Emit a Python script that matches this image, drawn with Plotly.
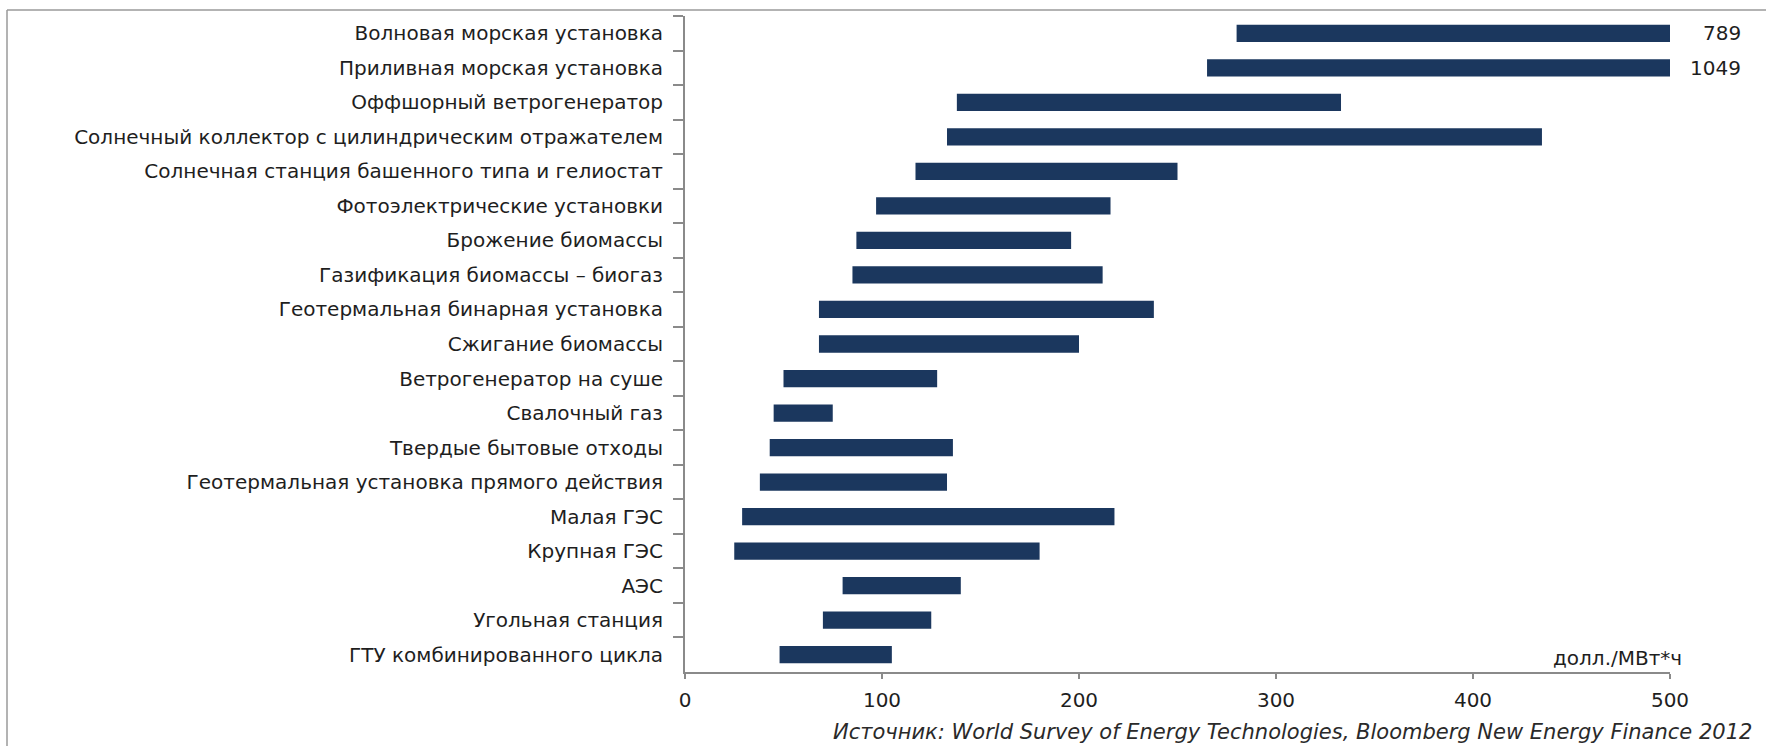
import plotly.graph_objects as go

# Levelized cost ranges, USD per MWh (low and high estimates)
categories = [
    "Волновая морская установка",
    "Приливная морская установка",
    "Оффшорный ветрогенератор",
    "Солнечный коллектор с цилиндрическим отражателем",
    "Солнечная станция башенного типа и гелиостат",
    "Фотоэлектрические установки",
    "Брожение биомассы",
    "Газификация биомассы – биогаз",
    "Геотермальная бинарная установка",
    "Сжигание биомассы",
    "Ветрогенератор на суше",
    "Свалочный газ",
    "Твердые бытовые отходы",
    "Геотермальная установка прямого действия",
    "Малая ГЭС",
    "Крупная ГЭС",
    "АЭС",
    "Угольная станция",
    "ГТУ комбинированного цикла",
]
low_values = [280, 265, 138, 133, 117, 97, 87, 85, 68, 68, 50, 45, 43, 38, 29, 25, 80, 70, 48]
high_values = [789, 1049, 333, 435, 250, 216, 196, 212, 238, 200, 128, 75, 136, 133, 218, 180, 140, 125, 105]

x_ticks = [0, 100, 200, 300, 400, 500]
x_max = 500
unit_label = "долл./МВт*ч"
source_text = "Источник: World Survey of Energy Technologies, Bloomberg New Energy Finance 2012"

BAR_COLOR = "#1b375e"
AXIS_COLOR = "#8a8a8a"
TEXT_COLOR = "#1e1e1e"
FONT = "DejaVu Sans"

W, H = 1766, 746
ML, MR, MT, MB = 685, 96, 16, 74
PW, PH = W - ML - MR, H - MT - MB


def px_x(px):
    return (px - ML) / PW


def px_y(py):
    return (H - MB - py) / PH


fig = go.Figure()
fig.add_trace(go.Bar(
    y=categories,
    x=[h - l for l, h in zip(low_values, high_values)],
    base=low_values,
    orientation="h",
    width=0.5,
    marker=dict(color=BAR_COLOR, line=dict(width=0)),
    hoverinfo="skip",
    showlegend=False,
))

# Values of bars running past the axis end
annotations = []
for cat, hi in zip(categories, high_values):
    if hi > x_max:
        annotations.append(dict(
            x=x_max, y=cat, xref="x", yref="y", text=str(hi),
            showarrow=False, xanchor="right", xshift=73,
            font=dict(family=FONT, size=20, color=TEXT_COLOR),
        ))

annotations.append(dict(
    x=px_x(1684), y=0, xref="paper", yref="paper", text=unit_label,
    showarrow=False, xanchor="right", yanchor="bottom",
    font=dict(family=FONT, size=20, color=TEXT_COLOR),
))
annotations.append(dict(
    x=px_x(1754), y=px_y(746), xref="paper", yref="paper", text=source_text,
    showarrow=False, xanchor="right", yanchor="bottom",
    font=dict(family=FONT, size=21, color="#2a2a2a", style="italic"),
))

# Outer frame lines (top and left)
shapes = [
    dict(type="line", xref="paper", yref="paper",
         x0=px_x(7), x1=px_x(W + 5), y0=px_y(10), y1=px_y(10),
         line=dict(color="#9a9a9a", width=1.5)),
    dict(type="line", xref="paper", yref="paper",
         x0=px_x(7), x1=px_x(7), y0=px_y(10), y1=px_y(H + 5),
         line=dict(color="#9a9a9a", width=1.5)),
]

fig.update_layout(
    width=W, height=H,
    margin=dict(l=ML, r=MR, t=MT, b=MB, pad=0),
    paper_bgcolor="white", plot_bgcolor="white",
    font=dict(family=FONT, size=20, color=TEXT_COLOR),
    bargap=0.5,
    annotations=annotations,
    shapes=shapes,
    xaxis=dict(
        range=[0, x_max], tickvals=x_ticks, ticktext=[str(v) for v in x_ticks],
        showgrid=False, zeroline=False,
        showline=True, linecolor=AXIS_COLOR, linewidth=2,
        ticks="outside", ticklen=5, tickwidth=2, tickcolor=AXIS_COLOR,
        tickfont=dict(family=FONT, size=20, color=TEXT_COLOR),
        ticklabelstandoff=4,
    ),
    yaxis=dict(
        type="category", categoryorder="array", categoryarray=categories,
        range=[len(categories) - 0.5, -0.5],
        showgrid=False, zeroline=False,
        showline=True, linecolor=AXIS_COLOR, linewidth=2,
        ticks="outside", ticklen=10, tickwidth=2, tickcolor=AXIS_COLOR,
        tickson="boundaries",
        tickfont=dict(family=FONT, size=20, color=TEXT_COLOR),
        ticklabelstandoff=16,
    ),
)

fig.write_html("out.html")
